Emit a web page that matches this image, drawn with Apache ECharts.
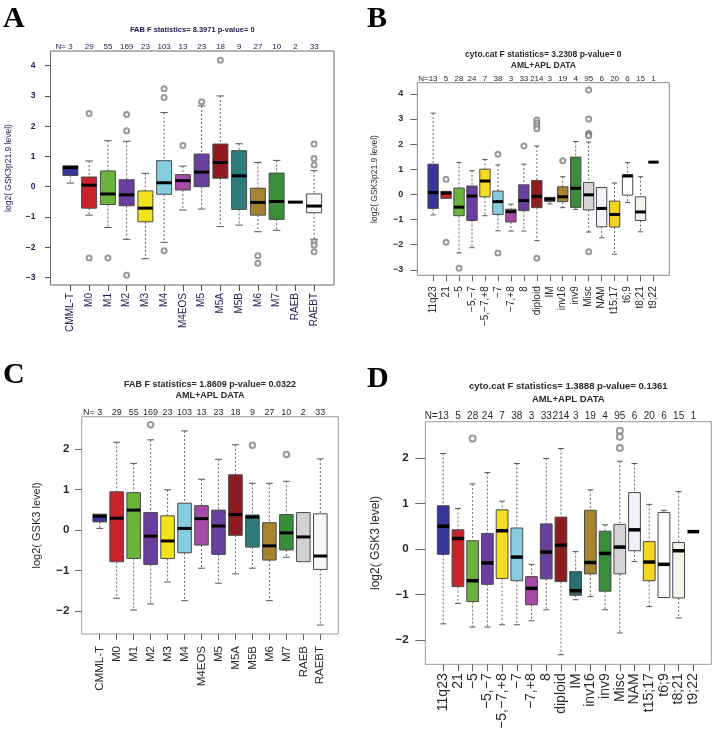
<!DOCTYPE html>
<html><head><meta charset="utf-8">
<script src="https://cdn.jsdelivr.net/npm/echarts@6/dist/echarts.min.js"></script>
<style>html,body{margin:0;padding:0;background:#fff}#c{width:714px;height:729px}</style>
</head><body><div id="c"></div>
<script>
// ---------- data ----------
const catsFAB = ['CMML-T','M0','M1','M2','M3','M4','M4EOS','M5','M5A','M5B','M6','M7','RAEB','RAEBT'];
const catsCyto = ['11q23','21','−5','−5,−7','−5,−7,+8','−7','−7,+8','8','diploid','IM','inv16','inv9','Misc','NAM','t15;17','t6;9','t8;21','t9;22'];
const nFAB = [3,29,55,169,23,103,13,23,18,9,27,10,2,33];
const nCyto = [13,5,28,24,7,38,3,33,214,3,19,4,95,6,20,6,15,1];
const ticksAB = [-3,-2,-1,0,1,2,3,4];
const ticksCD = [-2,-1,0,1,2];
const titleA = 'FAB F statistics= 8.3971 p-value= 0';
const titleB = 'cyto.cat F statistics= 3.2308 p-value= 0\nAML+APL DATA';
const titleC = 'FAB F statistics= 1.8609 p-value= 0.0322\nAML+APL DATA';
const titleD = 'cyto.cat F statistics= 1.3888 p-value= 0.1361\nAML+APL DATA';
// [lower whisker, Q1, median, Q3, upper whisker]
const boxA = [
 [0.12,0.37,0.63,0.69,0.72],[-0.94,-0.71,0.05,0.32,0.85],[-1.35,-0.59,-0.24,0.52,1.52],
 [-1.74,-0.63,-0.27,0.23,1.5],[-2.38,-1.16,-0.71,-0.14,0.44],[-1.84,-0.25,0.13,0.86,2.45],
 [-0.77,-0.11,0.2,0.4,0.68],[-0.74,0.0,0.48,1.08,2.67],[-1.32,0.28,0.8,1.41,3.0],
 [-1.27,-0.75,0.36,1.19,1.42],[-1.49,-0.94,-0.52,-0.05,0.8],[-1.44,-1.08,-0.49,0.45,0.87],
 [-0.52,-0.52,-0.51,-0.5,-0.5],[-1.74,-0.86,-0.64,-0.24,0.53]
];
const outA = [[],[2.42,-2.36],[-2.36],[2.39,1.85,-2.93],[],[3.24,2.95,-2.12],[1.36],[2.81],[4.18],[],[-2.28,-2.53],[],[],[1.41,0.93,0.72,-1.82,-1.93,-2.15]];
const boxB = [
 [-0.82,-0.56,0.07,1.2,3.23],[-0.17,-0.16,0.05,0.12,0.13],[-2.33,-0.85,-0.51,0.25,1.27],
 [-2.12,-1.04,-0.07,0.33,0.94],[-0.85,-0.1,0.53,1.0,1.39],[-1.45,-0.8,-0.29,0.13,1.17],
 [-1.46,-1.1,-0.69,-0.59,-0.39],[-1.46,-0.65,-0.25,0.38,1.2],[-1.84,-0.53,-0.08,0.55,1.92],
 [-0.38,-0.28,-0.19,-0.12,-0.1],[-0.53,-0.29,-0.1,0.3,0.7],[-0.6,-0.52,0.24,1.48,2.1],
 [-1.5,-0.62,-0.02,0.47,2.08],[-1.73,-1.29,-0.56,0.27,0.29],[-2.38,-1.3,-0.8,-0.27,0.45],
 [-0.32,-0.03,0.73,0.78,1.26],[-1.49,-1.04,-0.7,-0.1,0.7],[1.28,1.28,1.28,1.28,1.28]
];
const outB = [[],[0.6,-1.91],[-2.94],[],[],[1.59,-2.33],[],[1.92],[2.96,2.84,2.72,2.61,-2.54],[],[1.34],[],[4.15,3.0,2.42,2.38,2.33,-2.28],[],[],[],[],[]];
const boxC = [
 [0.04,0.2,0.34,0.39,0.41],[-1.68,-0.78,0.29,0.94,2.16],[-1.97,-0.7,0.49,0.92,1.64],
 [-1.82,-0.85,-0.15,0.43,2.22],[-1.28,-0.7,-0.27,0.35,0.99],[-1.74,-0.56,0.04,0.66,2.44],
 [-0.94,-0.37,0.28,0.6,1.25],[-1.31,-0.6,0.1,0.49,1.74],[-1.08,-0.13,0.38,1.36,2.1],
 [-0.94,-0.42,0.32,0.37,1.15],[-1.74,-0.74,-0.39,0.18,1.15],[-0.67,-0.49,-0.07,0.38,1.2],
 [-0.78,-0.78,-0.17,0.43,0.43],[-2.34,-0.97,-0.64,0.4,1.75]
];
const outC = [[],[],[],[2.59],[],[],[],[],[],[2.09],[],[1.86],[],[]];
const boxD = [
 [-1.65,-0.12,0.5,0.95,2.1],[-1.2,-0.83,0.23,0.42,0.89],[-1.72,-1.16,-0.7,0.18,1.43],
 [-1.72,-0.78,-0.31,0.34,1.68],[-1.67,-0.65,0.4,0.86,1.05],[-1.67,-0.7,-0.18,0.46,1.88],
 [-1.58,-1.23,-0.87,-0.61,-0.34],[-1.34,-0.66,-0.07,0.55,1.99],[-2.33,-0.72,0.08,0.7,2.21],
 [-1.12,-1.02,-0.92,-0.5,-0.06],[-1.05,-0.55,-0.3,0.85,1.3],[-1.34,-0.93,-0.1,0.39,0.53],
 [-1.85,-0.55,0.04,0.54,1.93],[-0.28,-0.04,0.42,1.24,1.88],[-1.27,-0.7,-0.29,0.16,0.98],
 [-1.08,-1.07,-0.34,0.8,0.85],[-1.52,-1.08,-0.04,0.14,1.26],[0.38,0.38,0.38,0.38,0.38]
];
const outD = [[],[],[2.43],[],[],[],[],[],[],[],[],[],[2.6,2.47,2.22],[],[],[],[],[]];
// ---------- styles ----------
const colorsFAB = ['#36369a','#c8222a','#6cb33e','#6a3e9e','#f4e21c','#86cce0','#a64ca8','#6841a0','#8c1c20','#2e7b7b','#a6832e','#3b8c3b','#d2d2d2','#f7f7fb'];
const colorsCyto = ['#36369a','#c8222a','#6cb33e','#6a3e9e','#f4dc1e','#86cce0','#a64ca8','#6841a0','#8c1c20','#2d6f70','#a6832e','#3b8c3b','#d3d3d3','#f1f1f9','#f5d41e','#ffffff','#f1f6ea','#ffffff'];
const FONT = 'Liberation Sans, Arial, sans-serif';
const minus = v => String(v).replace('-', '−');

const option = {animation:false, backgroundColor:'#fff', title:[], grid:[], xAxis:[], yAxis:[], series:[]};

function addPanel(c) {
  const [L,T,R,B] = c.frame;
  const W = R-L, H = B-T, pad = W/27;
  const go = option.grid.length, gi = go+1;
  option.grid.push({left:L, top:T, width:W, height:H, show:true, borderColor:c.frameColor, borderWidth:1,
    backgroundColor:'rgba(0,0,0,0)', containLabel:false, outerBoundsMode:'none'});
  option.grid.push({left:L+pad, top:T, width:W-2*pad, height:H, containLabel:false, outerBoundsMode:'none'});
  const xo = option.xAxis.length, yo = option.yAxis.length;
  option.xAxis.push({gridIndex:go, type:'value', show:false, min:0, max:1});
  option.xAxis.push({gridIndex:gi, type:'category', data:c.cats, position:'bottom', boundaryGap:true,
    axisLine:{show:false, onZero:false}, splitLine:{show:false},
    axisTick:{show:true, alignWithLabel:true, length:c.xTick, lineStyle:{color:c.tickColor}},
    axisLabel:{interval:0, rotate:90, margin:c.xMargin, fontSize:c.xFont, color:c.textColor, fontFamily:FONT}});
  const pre = c.nPrefix;
  option.xAxis.push({gridIndex:gi, type:'category', position:'top', data:c.ns.map(String), boundaryGap:true,
    axisLine:{show:false, onZero:false}, axisTick:{show:false}, splitLine:{show:false},
    axisLabel:{interval:0, margin:c.nMargin, fontSize:c.nFont, color:c.textColor, fontFamily:FONT,
      formatter:(v,i)=> i===0 ? '{h|'+pre+'}'+v+'{t|'+pre+'}' : v,
      rich:{h:{fontSize:c.nFont, color:c.textColor, fontFamily:FONT},
            t:{fontSize:c.nFont, color:'rgba(0,0,0,0)', fontFamily:FONT}}}});
  option.yAxis.push({gridIndex:go, type:'value', show:false, min:0, max:1});
  option.yAxis.push({gridIndex:gi, type:'value', min:c.yMin, max:c.yMax, offset:pad,
    axisLine:{show:false, onZero:false}, splitLine:{show:false},
    axisTick:{show:true, length:c.yTick, customValues:c.ticks, lineStyle:{color:c.tickColor}},
    axisLabel:{customValues:c.ticks, formatter:minus, margin:c.yMargin, fontSize:c.yFont,
      color:c.textColor, fontFamily:FONT, fontWeight:c.yWeight},
    name:c.yName, nameLocation:'middle', nameGap:c.nameGap,
    nameTextStyle:{fontSize:c.nameFont, color:c.textColor, fontFamily:FONT}});
  const colors = c.colors, mw = c.medianW;
  option.series.push({type:'custom', xAxisIndex:xo+1, yAxisIndex:yo+1, clip:false, z:2,
    encode:{x:0, y:[1,2,3,4,5]},
    data:c.boxes.map((b,i)=>[i].concat(b)),
    renderItem:function(params, api){
      const i = api.value(0);
      const lo = api.coord([i, api.value(1)]), q1 = api.coord([i, api.value(2)]);
      const md = api.coord([i, api.value(3)]), q3 = api.coord([i, api.value(4)]);
      const hi = api.coord([i, api.value(5)]);
      const bw = api.size([1,0])[0], half = bw*0.4, cap = bw*0.2, x = md[0];
      const wl = {stroke:'#6a6a6a', lineWidth:1, lineDash:[2,2]};
      const cl = {stroke:'#555', lineWidth:1};
      const ch = [];
      if (q3[1]-hi[1] > 1) {
        ch.push({type:'line', shape:{x1:x,y1:hi[1],x2:x,y2:q3[1]}, style:wl});
        ch.push({type:'line', shape:{x1:x-cap,y1:hi[1],x2:x+cap,y2:hi[1]}, style:cl});
      }
      if (lo[1]-q1[1] > 1) {
        ch.push({type:'line', shape:{x1:x,y1:q1[1],x2:x,y2:lo[1]}, style:wl});
        ch.push({type:'line', shape:{x1:x-cap,y1:lo[1],x2:x+cap,y2:lo[1]}, style:cl});
      }
      if (q1[1]-q3[1] > 1) {
        ch.push({type:'rect', shape:{x:x-half,y:q3[1],width:2*half,height:q1[1]-q3[1]},
          style:{fill:colors[params.dataIndex], stroke:'#4a4a4a', lineWidth:1}});
      }
      ch.push({type:'line', shape:{x1:x-half,y1:md[1],x2:x+half,y2:md[1]}, style:{stroke:'#000', lineWidth:mw}});
      return {type:'group', children:ch};
    }});
  const pts = [];
  c.outs.forEach((arr,i)=>arr.forEach(v=>pts.push([i,v])));
  option.series.push({type:'scatter', xAxisIndex:xo+1, yAxisIndex:yo+1, data:pts, z:3,
    symbol:'emptyCircle', symbolSize:c.outSize,
    itemStyle:{color:'#808080', borderColor:'#808080', borderWidth:1}});
  option.title.push({text:c.letter, left:c.letterPos[0], top:c.letterPos[1], padding:0,
    textStyle:{fontFamily:'Liberation Serif, Times New Roman, serif', fontWeight:'bold', fontSize:30, color:'#000'}});
  option.title.push({text:c.title, left:(L+R)/2, top:c.titleTop, textAlign:'center', padding:0,
    textStyle:{fontFamily:FONT, fontWeight:'bold', fontSize:c.titleFont, lineHeight:c.titleLH, color:c.textColor}});
}

addPanel({letter:'A', letterPos:[3,4], frame:[50.5,51,334,285], cats:catsFAB, ns:nFAB, nPrefix:'N= ',
  boxes:boxA, outs:outA, colors:colorsFAB, yMin:-3.25, yMax:4.486, ticks:ticksAB,
  yName:'log2( GSK3p21.9 level)', title:titleA, titleTop:25, titleFont:7.5, titleLH:9,
  textColor:'#1d1d4e', frameColor:'#6a6a6a', tickColor:'#555',
  xTick:6, xMargin:8, xFont:10, nMargin:0, nFont:8, yTick:5.5, yMargin:15, yFont:8.5, yWeight:'bold',
  nameGap:37, nameFont:8.5, medianW:3, outSize:5});
addPanel({letter:'B', letterPos:[367,4], frame:[417.3,82.7,669.3,275.3], cats:catsCyto, ns:nCyto, nPrefix:'N=',
  boxes:boxB, outs:outB, colors:colorsCyto, yMin:-3.22, yMax:4.44, ticks:ticksAB,
  yName:'log2( GSK3p21.9 level)', title:titleB, titleTop:49.6, titleFont:8.5, titleLH:10.7,
  textColor:'#2a2a2a', frameColor:'#8a8a8a', tickColor:'#666',
  xTick:6, xMargin:11, xFont:10, nMargin:0, nFont:8, yTick:7, yMargin:14, yFont:9, yWeight:'bold',
  nameGap:38.5, nameFont:8.5, medianW:3, outSize:5});
addPanel({letter:'C', letterPos:[3,360], frame:[81.7,416.7,338.3,634], cats:catsFAB, ns:nFAB, nPrefix:'N= ',
  boxes:boxC, outs:outC, colors:colorsFAB, yMin:-2.56, yMax:2.79, ticks:ticksCD,
  yName:'log2( GSK3 level)', title:titleC, titleTop:379.5, titleFont:9, titleLH:11,
  textColor:'#2a2a2a', frameColor:'#999', tickColor:'#666',
  xTick:6, xMargin:12, xFont:11.5, nMargin:0, nFont:9, yTick:6.7, yMargin:12.4, yFont:11.5, yWeight:'bold',
  nameGap:39.5, nameFont:11, medianW:3, outSize:5.5});
addPanel({letter:'D', letterPos:[367,364], frame:[425.3,421.7,711.3,664.3], cats:catsCyto, ns:nCyto, nPrefix:'N=',
  boxes:boxD, outs:outD, colors:colorsCyto, yMin:-2.54, yMax:2.80, ticks:ticksCD,
  yName:'log2( GSK3 level)', title:titleD, titleTop:380.4, titleFont:9.5, titleLH:12.6,
  textColor:'#2a2a2a', frameColor:'#999', tickColor:'#666',
  xTick:7, xMargin:9, xFont:14, nMargin:0.5, nFont:10, yTick:10, yMargin:16.6, yFont:11.5, yWeight:'bold',
  nameGap:44, nameFont:12, medianW:3.5, outSize:6});

const chart = echarts.init(document.getElementById('c'), null, {renderer:'canvas'});
chart.setOption(option);
</script></body></html>
